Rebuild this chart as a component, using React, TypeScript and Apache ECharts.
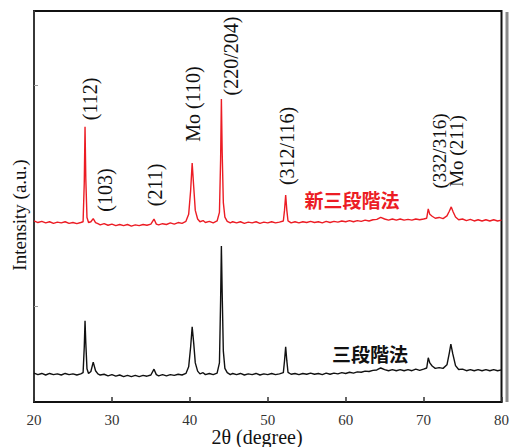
import React, { useEffect, useRef } from "react";
import * as echarts from "echarts";

// 2θ (degree) vs intensity (a.u.)
const newThreeStage: [number, number][] = [
  [20,46.3],[20.5,45.9],[21,46.2],[21.5,45.8],[22,46.1],[22.5,45.7],[23,46.0],[23.5,45.8],[24,46.1],[24.5,45.7],
  [25,45.9],[25.5,45.6],[26,45.9],[26.3,46.1],[26.45,56],[26.55,70.4],[26.65,57],[26.8,47.2],[27,45.9],[27.3,46.1],
  [27.6,46.9],[27.9,45.9],[28.2,45.6],[28.5,45.3],[29,45.6],[29.5,45.2],[30,45.5],[30.5,45.1],[31,45.4],[31.5,45.1],
  [32,45.4],[32.5,45.0],[33,45.3],[33.5,45.1],[34,45.4],[34.5,45.2],[35,45.5],[35.4,46.8],[35.7,45.5],[36,45.3],
  [36.5,45.6],[37,45.4],[37.5,45.8],[38,45.5],[38.5,45.9],[39,45.7],[39.5,46.2],[39.85,48],[40.1,54],[40.3,61.1],
  [40.5,55],[40.7,49],[41,46.8],[41.3,46.1],[41.7,46.4],[42,45.9],[42.5,46.2],[43,45.8],[43.5,46.3],[43.8,48.5],
  [43.95,62],[44.05,77.5],[44.15,64],[44.3,51],[44.5,47.3],[44.8,46.2],[45.2,45.8],[45.5,46.1],[46,45.8],[46.5,46.1],
  [47,45.7],[47.5,46.0],[48,45.8],[48.5,46.1],[49,45.7],[49.5,46.0],[50,45.8],[50.5,46.1],[51,45.8],[51.5,46.0],
  [52,46.3],[52.15,49],[52.3,52.9],[52.45,49],[52.6,46.3],[53,45.8],[53.5,46.1],[54,45.8],[54.5,46.1],[55,45.9],
  [55.5,46.2],[56,45.9],[56.5,46.1],[57,45.8],[57.5,46.2],[58,45.9],[58.5,46.2],[59,46.0],[59.5,46.3],[60,46.1],
  [60.5,46.4],[61,46.1],[61.5,46.4],[62,46.2],[62.5,46.5],[63,46.3],[63.5,46.6],[64,46.7],[64.5,47.2],[65,46.8],
  [65.5,46.5],[66,46.8],[66.5,46.5],[67,46.8],[67.5,46.5],[68,46.7],[68.5,46.5],[69,46.8],[69.5,46.6],[70,46.8],
  [70.4,47.0],[70.6,49.4],[70.8,48.0],[71.1,47.5],[71.5,47.0],[72,47.2],[72.5,46.9],[73,47.6],[73.3,48.8],[73.55,49.9],
  [73.8,48.6],[74.1,47.3],[74.5,46.6],[75,46.8],[75.5,46.4],[76,46.7],[76.5,46.3],[77,46.6],[77.5,46.3],[78,46.6],
  [78.5,46.3],[79,46.6],[79.5,46.3],[80,46.5]
];

const threeStage: [number, number][] = [
  [20,7.4],[20.5,7.0],[21,7.3],[21.5,6.9],[22,7.3],[22.5,7.0],[23,7.2],[23.5,6.9],[24,7.3],[24.5,7.0],
  [25,7.2],[25.5,6.9],[26,7.2],[26.3,7.5],[26.45,14],[26.55,20.8],[26.65,15],[26.8,8.5],[27,7.3],[27.3,7.8],
  [27.6,10.2],[27.9,8.0],[28.2,7.2],[28.5,6.9],[29,7.1],[29.5,6.7],[30,7.0],[30.5,6.6],[31,6.9],[31.5,6.5],
  [32,6.8],[32.5,6.5],[33,6.8],[33.5,6.5],[34,6.8],[34.5,6.6],[35,6.9],[35.4,8.4],[35.7,7.0],[36,6.7],
  [36.5,7.0],[37,6.7],[37.5,7.0],[38,6.8],[38.5,7.1],[39,6.9],[39.5,7.3],[39.85,9],[40.1,14],[40.3,19.2],
  [40.5,15],[40.7,10],[41,7.9],[41.3,7.2],[41.7,7.5],[42,7.0],[42.5,7.3],[43,7.0],[43.5,7.4],[43.8,10],
  [43.95,26],[44.05,39.9],[44.15,28],[44.3,13],[44.5,8.6],[44.8,7.5],[45.2,7.0],[45.5,7.3],[46,7.0],[46.5,7.3],
  [47,6.9],[47.5,7.2],[48,7.0],[48.5,7.3],[49,6.9],[49.5,7.2],[50,7.0],[50.5,7.3],[51,7.0],[51.5,7.2],
  [52,7.5],[52.15,10.5],[52.3,14.1],[52.45,10.5],[52.6,7.6],[53,7.1],[53.5,7.3],[54,7.0],[54.5,7.3],[55,7.1],
  [55.5,7.4],[56,7.1],[56.5,7.3],[57,7.0],[57.5,7.4],[58,7.1],[58.5,7.4],[59,7.2],[59.5,7.5],[60,7.3],
  [60.5,7.6],[61,7.4],[61.5,7.7],[62,7.6],[62.5,7.9],[63,7.8],[63.5,8.1],[64,8.2],[64.5,8.7],[65,8.3],
  [65.5,8.0],[66,8.3],[66.5,8.0],[67,8.3],[67.5,8.0],[68,8.3],[68.5,8.0],[69,8.4],[69.5,8.1],[70,8.4],
  [70.4,8.7],[70.6,11.3],[70.8,10.0],[71.1,9.2],[71.5,8.6],[72,8.8],[72.5,8.6],[73,9.5],[73.3,12.5],[73.5,14.8],
  [73.75,12.3],[74.1,9.3],[74.5,8.3],[75,8.4],[75.5,8.0],[76,8.3],[76.5,8.0],[77,8.3],[77.5,8.0],[78,8.3],
  [78.5,8.0],[79,8.3],[79.5,8.0],[80,8.2]
];

const xTicks = [20, 30, 40, 50, 60, 70, 80];
const yTickValues = [24.5, 81];

const peakLabels = ["(112)", "(103)", "(211)", "Mo (110)", "(220/204)", "(312/116)", "(332/316)", "Mo (211)"];
const seriesNames = ["新三段階法", "三段階法"];

// layout (pixel) positions for annotation texts
const peakLabelPos = [
  { x: 90, y: 99, size: 20 },
  { x: 105, y: 190, size: 20 },
  { x: 155, y: 185, size: 20 },
  { x: 193, y: 104, size: 20 },
  { x: 231, y: 56, size: 20 },
  { x: 287, y: 146, size: 20 },
  { x: 439, y: 151, size: 19 },
  { x: 456, y: 151, size: 19 },
];

const GRID = { left: 34, right: 5, top: 11, bottom: 45 };
const W = 512;
const H = 447;

const RED = "#ec1c24";
const SERIF = "'Liberation Serif', 'Times New Roman', serif";
const CJK = "'Noto Sans CJK JP', 'Noto Sans CJK SC', sans-serif";

export default function App() {
  const ref = useRef<HTMLDivElement>(null);
  useEffect(() => {
    if (!ref.current) return;
    const chart = echarts.init(ref.current, undefined, { renderer: "svg" });
    const xR = W - GRID.right, yT = GRID.top, yB = H - GRID.bottom;
    const graphics: any[] = peakLabels.map((t, i) => ({
      type: "text",
      x: peakLabelPos[i].x,
      y: peakLabelPos[i].y,
      rotation: Math.PI / 2,
      style: {
        text: t,
        fill: "#111",
        font: `${peakLabelPos[i].size}px ${SERIF}`,
        align: "center",
        verticalAlign: "middle",
      },
    }));
    graphics.push(
      {
        type: "rect", z: 100,
        shape: { x: xR - 1.5, y: yT + 1, width: 3, height: yB - yT - 1 },
        style: { fill: "#8a8a8a" },
      },
      {
        type: "text", x: 352, y: 199,
        style: { text: seriesNames[0], fill: RED, font: `bold 19px ${CJK}`, align: "center", verticalAlign: "middle" },
      },
      {
        type: "text", x: 370, y: 353,
        style: { text: seriesNames[1], fill: "#111", font: `bold 19px ${CJK}`, align: "center", verticalAlign: "middle" },
      },
      {
        type: "text", x: 19, y: 215, rotation: Math.PI / 2,
        style: { text: "Intensity (a.u.)", fill: "#111", font: `19px ${SERIF}`, align: "center", verticalAlign: "middle" },
      },
      {
        type: "text", x: 257, y: 437,
        style: { text: "2θ (degree)", fill: "#111", font: `20px ${SERIF}`, align: "center", verticalAlign: "middle" },
      }
    );
    chart.setOption({
      animation: false,
      backgroundColor: "#fff",
      grid: { ...GRID, show: true, borderColor: "#111", borderWidth: 2, backgroundColor: "transparent" },
      xAxis: {
        type: "value", min: 20, max: 80, interval: 10, position: "bottom",
        axisLine: { show: true, onZero: false, lineStyle: { color: "#111", width: 2 } },
        axisTick: { show: true, inside: true, length: 5, lineStyle: { color: "#333", width: 1.5 } },
        axisLabel: {
          margin: 10, color: "#333", fontFamily: SERIF, fontSize: 15,
          formatter: (v: number) => (xTicks.includes(v) ? String(v) : ""),
        },
        splitLine: { show: false },
      },
      yAxis: {
        type: "value", min: 0, max: 100, position: "left",
        axisLine: { show: true, onZero: false, lineStyle: { color: "#444", width: 1.5 } },
        axisTick: { show: true, inside: true, length: 4, customValues: yTickValues, lineStyle: { color: "#999", width: 1 } },
        axisLabel: { show: false }, splitLine: { show: false },
      },
      series: [
        {
          name: seriesNames[0], type: "line", data: newThreeStage, showSymbol: false, symbol: "none",
          lineStyle: { color: RED, width: 1.4 },
        },
        {
          name: seriesNames[1], type: "line", data: threeStage, showSymbol: false, symbol: "none",
          lineStyle: { color: "#111", width: 1.4 },
        },
      ],
      graphic: graphics,
    });
    return () => chart.dispose();
  }, []);
  return <div ref={ref} style={{ position: "fixed", left: 0, top: 0, width: W, height: H }} />;
}
